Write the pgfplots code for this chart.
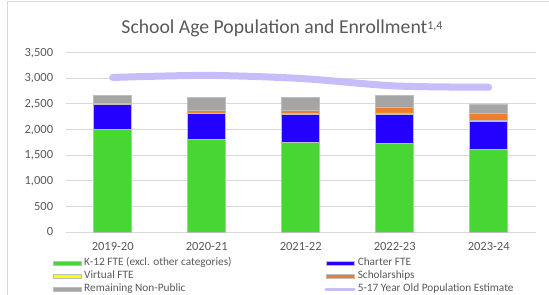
\documentclass[border=0pt]{standalone}
\usepackage{fontspec}
\setmainfont{Carlito}
\usepackage{pgfplots}
\pgfplotsset{compat=1.18}
\definecolor{k12}{RGB}{72,214,52}
\definecolor{charter}{RGB}{36,0,255}
\definecolor{virtual}{RGB}{255,255,0}
\definecolor{schol}{RGB}{237,125,49}
\definecolor{remain}{RGB}{165,165,165}
\definecolor{linecol}{RGB}{198,190,250}
\definecolor{gridcol}{RGB}{217,217,217}
\definecolor{labelcol}{RGB}{89,89,89}
\definecolor{barborder}{RGB}{190,190,190}
\pgfplotsset{
  barlegend/.style={legend image code/.code={\draw[##1] (0bp,-2bp) rectangle (28bp,2bp);}},
  linelegend/.style={legend image code/.code={\draw[##1] (0bp,0bp) -- (28bp,0bp);}},
}
\begin{document}
\begin{tikzpicture}
\useasboundingbox (0,0) rectangle (549bp,295bp);
\draw[gridcol, line width=0.75bp] (7.3bp,0bp) -- (7.3bp,293.3bp) -- (549bp,293.3bp);
\begin{axis}[
  at={(65.7bp,63bp)}, anchor=south west,
  scale only axis, width=470bp, height=179.7bp,
  xmin=-0.5, xmax=4.5, ymin=0, ymax=3500,
  ybar stacked, bar width=38.3bp,
  xtick={0,1,2,3,4},
  xticklabels={2019-20,2020-21,2021-22,2022-23,2023-24},
  ytick={0,500,1000,1500,2000,2500,3000,3500},
  ymajorgrids, grid style={gridcol, line width=0.75bp},
  axis line style={draw=none}, major tick length=0pt, tick style={draw=none},
  tick label style={font=\fontsize{12.5bp}{14bp}\selectfont, text=labelcol},
  /pgf/number format/assume math mode=true,
  /pgf/number format/1000 sep={,},
  scaled y ticks=false,
  yticklabel style={anchor=base east, inner sep=0pt, xshift=-12.4bp, yshift=-3.9bp},
  xticklabel style={anchor=base, inner sep=0pt, yshift=-18.7bp},
  legend columns=2, legend cell align=left,
  legend style={at={(axis description cs:-0.0264,-0.1338)}, anchor=north west,
    draw=none, fill=none, inner sep=0pt, column sep=2bp, row sep=0pt,
    font=\fontsize{11.3bp}{13bp}\selectfont, text=labelcol,
    nodes={inner sep=0pt, text height=9bp, text depth=4.3bp},
    /tikz/every even column/.append style={column sep=92.7bp}},
  barlegend,
]
\addplot[fill=k12, draw=barborder, line width=0.75bp] coordinates {(0,2000) (1,1810) (2,1745) (3,1720) (4,1615)};
\addlegendentry{K-12 FTE (excl. other categories)}
\addplot[fill=charter, draw=barborder, line width=0.75bp] coordinates {(0,485) (1,495) (2,545) (3,570) (4,535)};
\addlegendentry{Charter FTE}
\addplot[fill=virtual, draw=barborder, line width=0.75bp] coordinates {(0,10) (1,15) (2,15) (3,30) (4,25)};
\addlegendentry{Virtual FTE}
\addplot[fill=schol, draw=barborder, line width=0.75bp] coordinates {(0,15) (1,55) (2,67) (3,115) (4,140)};
\addlegendentry{Scholarships}
\addplot[fill=remain, draw=barborder, line width=0.75bp] coordinates {(0,155) (1,245) (2,243) (3,230) (4,180)};
\addlegendentry{Remaining Non-Public}
\addlegendimage{draw=linecol, line width=3.5bp, line cap=round, linelegend}
\addlegendentry{5-17 Year Old Population Estimate}
\end{axis}
\begin{axis}[
  at={(65.7bp,63bp)}, anchor=south west,
  scale only axis, width=470bp, height=179.7bp,
  xmin=-0.5, xmax=4.5, ymin=0, ymax=3500,
  hide axis, clip=false,
]
\addplot[draw=linecol, line width=7bp, line cap=round, smooth, no markers] coordinates {(0,3010) (1,3050) (2,2990) (3,2845) (4,2820)};
\end{axis}
\node[anchor=base, font=\fontsize{19.7bp}{22bp}\selectfont, text=labelcol] at (282bp,261.7bp) {School Age Population and Enrollment\raisebox{3.6bp}{\fontsize{12bp}{14bp}\selectfont 1,4}};
\end{tikzpicture}
\end{document}
